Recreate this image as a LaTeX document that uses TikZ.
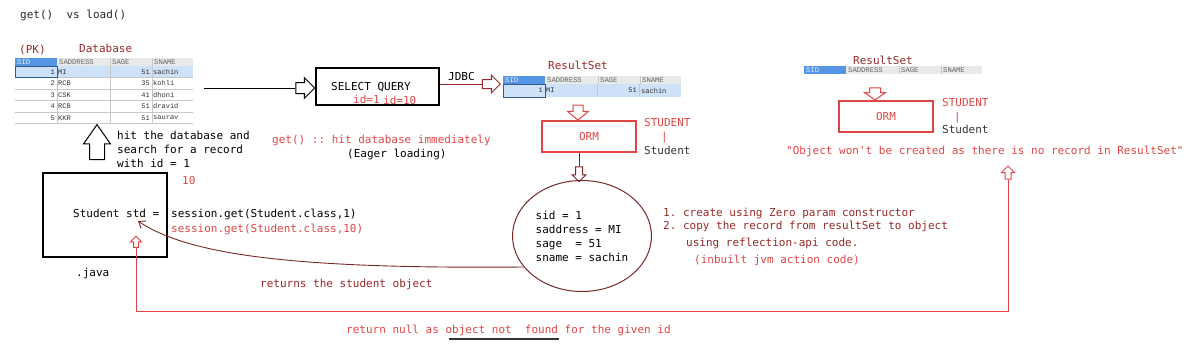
\documentclass[tikz,border=0pt]{standalone}
\usepackage{fontspec}
\setmonofont{DejaVu Sans Mono}
\newfontfamily\tabfont{Liberation Mono}
\usepackage{tikz}
\usetikzlibrary{shapes.geometric, shapes.arrows, arrows.meta, positioning, calc}

\definecolor{hbred}{RGB}{222,70,70}
\definecolor{hbdark}{RGB}{150,40,40}
\definecolor{hbbrown}{RGB}{120,40,40}
\definecolor{selblue}{RGB}{85,150,228}
\definecolor{rowblue}{RGB}{205,225,248}
\definecolor{hdrgray}{RGB}{233,233,233}
\definecolor{gridgray}{RGB}{200,200,200}

\tikzset{
  code/.style={font=\ttfamily\fontsize{11}{14}\selectfont, inner sep=0pt, anchor=base west},
  redcode/.style={code, text=hbred},
  darkcode/.style={code, text=hbdark},
  cell/.style={font=\tabfont\fontsize{7}{8}\selectfont, inner sep=0pt, text=black!80},
  hdr/.style={cell, font=\tabfont\fontsize{7.2}{8}\selectfont, text=black!60, anchor=west},
  box/.style={rectangle, draw, line width=1.2pt, inner sep=0pt},
  redbox/.style={box, draw=hbred, text=hbred, font=\ttfamily\fontsize{11}{14}\selectfont},
  hollow/.style={single arrow, draw, fill=white, line width=1pt, inner xsep=0pt, inner ysep=#1},
}

\begin{document}
\begin{tikzpicture}[x=1pt, y=-1pt]
    \useasboundingbox (0,0) rectangle (1200,348);

    % Title
    \node[code, text=black!85] (title) at (20,19) {get()\ \ vs load()};

    % Table headers
    \foreach \tx/\ty/\tn in {15/58/db, 503/76/rs, 804/66/rsn} {
      \fill[hdrgray] (\tx,\ty) rectangle ++(178,8);
      \fill[selblue] (\tx,\ty) rectangle ++(42,8);
      \foreach \cx in {95,137} \draw[gridgray, line width=0.5pt] (\tx+\cx,\ty) -- ++(0,8);
      \node[hdr, text=white!85!selblue] (\tn-sid) at (\tx+2,\ty+4) {SID};
      \node[hdr] (\tn-addr) at (\tx+44,\ty+4) {SADDRESS};
      \node[hdr] (\tn-age) at (\tx+97,\ty+4) {SAGE};
      \node[hdr] (\tn-name) at (\tx+139,\ty+4) {SNAME};
    }

    % Database table
    \node[darkcode] (pk) at (19,53) {(PK)};
    \node[darkcode] (dbtitle) at (79,52) {Database};
    \fill[rowblue] (15,66) rectangle (193,77.5);
    \foreach \y in {77.5,89,100.5,112,123.5} \draw[gridgray, line width=0.5pt] (15,\y) -- (193,\y);
    \foreach \x in {57,110,152} \draw[gridgray, line width=0.5pt] (\x,66) -- (\x,123.5);
    \draw[selblue!60!black, line width=0.6pt] (15,66) rectangle (57,77.5);
    \foreach \rid/\raddr/\rage/\rname in {1/MI/51/sachin, 2/RCB/35/kohli, 3/CSK/41/dhoni, 4/RCB/51/dravid, 5/KKR/51/saurav} {
      \node[cell, anchor=east] (db-\rid-sid) at (55,60.25+\rid*11.5) {\rid};
      \node[cell, anchor=west] (db-\rid-addr) at (58,60.25+\rid*11.5) {\raddr};
      \node[cell, anchor=east] (db-\rid-age) at (150,60.25+\rid*11.5) {\rage};
      \node[cell, anchor=west] (db-\rid-name) at (153,60.25+\rid*11.5) {\rname};
    }
    \coordinate (dbout) at (204,88);

    % Query
    \node[hollow=5pt, single arrow head extend=5pt, minimum height=19pt] (qarr) at (302.5,88) {};
    \node[box, minimum width=123pt, minimum height=37pt] (query) at (377.5,86.5) {};
    \node[code] (qtext) at (331,90) {SELECT QUERY};
    \node[redcode] (qid) at (353,103) {id=1};
    \node[redcode] (qidten) at (383,104) {id=10};
    \node[hollow=4pt, draw=hbdark, single arrow head extend=4.5pt, minimum height=18pt] (jarr) at (489,84) {};
    \node[code] (jdbc) at (448,80) {JDBC};
    \draw[line width=1pt] (dbout) -- (qarr.tail);
    \draw[hbdark, line width=1pt] (query.east |- jarr.tail) -- (jarr.tail);

    % ResultSet with a record
    \node[darkcode] (rstitle) at (548,69) {ResultSet};
    \fill[rowblue] (503,84) rectangle (681,97);
    \foreach \x in {545,597,639} \draw[gridgray, line width=0.5pt] (\x,84) -- (\x,97);
    \draw[selblue!60!black, line width=0.6pt] (503,84) rectangle (545,97);
    \node[cell, anchor=east] (rs-sid) at (543,90.5) {1};
    \node[cell, anchor=west] (rs-addr) at (546,90.5) {MI};
    \node[cell, anchor=east] (rs-age) at (637,90.5) {51};
    \node[cell, anchor=west] (rs-name) at (641,90.5) {sachin};
    \node[hollow=4.5pt, draw=hbred, single arrow head extend=5.5pt, single arrow tip angle=100, minimum height=15pt, rotate=-90] (rsarr) at (578,110.5) {};
    \node[redbox, minimum width=94pt, minimum height=31pt] (orm) at (589,136.5) {ORM};
    \node[redcode] (tbl) at (644,126) {STUDENT};
    \node[redcode] (bar) at (661,140) {|};
    \node[code, text=black!80] (cls) at (644,154) {Student};
    \node[hollow=3pt, draw=hbbrown, single arrow head extend=3.5pt, minimum height=15pt, rotate=-90] (oarr) at (579,172.5) {};
    \draw[hbbrown, line width=0.8pt] (oarr.tail |- orm.south) -- (oarr.tail);

    % Object
    \node[ellipse, draw=hbbrown, line width=1pt, minimum width=139pt, minimum height=111pt, inner sep=0pt,
          align=left, font=\ttfamily\fontsize{11}{14}\selectfont] (obj) at (582,236)
          {sid = 1\\saddress = MI\\sage\ \ = 51\\sname = sachin};
    \node[darkcode] (stepone) at (663,216) {1. create using Zero param constructor};
    \node[darkcode] (steptwo) at (663,229) {2. copy the record from resultSet to object};
    \node[darkcode] (steprefl) at (686,246) {using reflection-api code.};
    \node[redcode] (stepjvm) at (694,263) {(inbuilt jvm action code)};

    % Java side
    \node[box, minimum width=124pt, minimum height=84pt] (java) at (105,215) {};
    \node[code] (std) at (73,217) {Student std =};
    \node[code] (call) at (171,217) {session.get(Student.class,1)};
    \node[redcode] (callten) at (171,232) {session.get(Student.class,10)};
    \node[code] (ext) at (76,276) {.java};
    \node[hollow=7pt, single arrow head extend=6pt, single arrow tip angle=70, minimum height=35pt, rotate=90] (uparr) at (97,147.5) {};
    \node[code] (hitone) at (117,139) {hit the database and};
    \node[code] (hittwo) at (117,153) {search for a record};
    \node[code] (hitthree) at (117,167) {with id = 1};
    \node[redcode] (hitten) at (182,184) {10};
    \node[redcode] (eager) at (272,143) {get() :: hit database immediately};
    \node[code] (eagerlbl) at (347,157) {(Eager loading)};
    \coordinate (stdpt) at (138,221);

    % Return of the object
    \draw[hbbrown, line width=0.9pt, -{Straight Barb[length=6pt, width=9pt]}] (obj.208) .. controls (300,269) and (190,256) .. (stdpt);
    \node[darkcode] (ret) at (260,287) {returns the student object};

    % ResultSet without a record
    \node[darkcode] (rsntitle) at (853,64) {ResultSet};
    \node[hollow=5pt, draw=hbred, single arrow head extend=5pt, single arrow tip angle=110, minimum height=12pt, rotate=-90] (rsnarr) at (875,92) {};
    \node[redbox, minimum width=94pt, minimum height=31pt] (ormn) at (886,116.5) {ORM};
    \node[redcode] (tbln) at (942,106) {STUDENT};
    \node[redcode] (barn) at (954,120) {|};
    \node[code, text=black!80] (clsn) at (942,133) {Student};
    \node[redcode] (nobj) at (786,154) {"Object won't be created as there is no record in ResultSet"};

    % Null return
    \node[hollow=2.5pt, draw=hbred, single arrow head extend=3.5pt, minimum height=13pt, rotate=90] (noarr) at (1008,174) {};
    \node[hollow=2pt, draw=hbred, single arrow head extend=3pt, minimum height=11pt, rotate=90] (nullarr) at (136,243) {};
    \coordinate (bot) at (0,311);
    \draw[hbred, line width=1pt] (noarr.tail) -- (noarr.tail |- bot) -| (nullarr.tail);
    \node[redcode] (nulltext) at (346,333) {return null as object not\ \ found for the given id};
    \draw[black!80, line width=1.2pt] (449,339) -- (559,339);
\end{tikzpicture}
\end{document}
